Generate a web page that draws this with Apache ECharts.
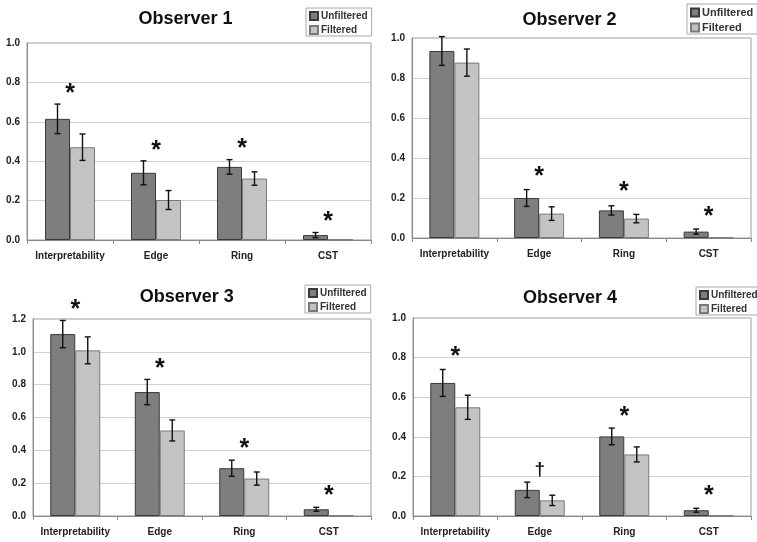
<!DOCTYPE html>
<html>
<head>
<meta charset="utf-8">
<script src="https://cdn.jsdelivr.net/npm/echarts@6/dist/echarts.min.js"></script>
<style>html,body{margin:0;padding:0;background:#fff;}#c{width:757px;height:542px;}</style>
</head>
<body>
<div id="c"></div>
<script>
const categories = ['Interpretability', 'Edge', 'Ring', 'CST'];
const titles = ['Observer 1', 'Observer 2', 'Observer 3', 'Observer 4'];
const seriesNames = ['Unfiltered', 'Filtered'];
const yMax = [1.0, 1.0, 1.2, 1.0];

const unfiltered1 = [0.615, 0.341, 0.371, 0.025];
const unfilteredErr1 = [0.075, 0.061, 0.037, 0.013];
const filtered1 = [0.471, 0.203, 0.312, 0.002];
const filteredErr1 = [0.067, 0.048, 0.034, 0];
const marks1 = ['*', '*', '*', '*'];
const markY1 = [0.77, 0.48, 0.49, 0.12];

const unfiltered2 = [0.935, 0.200, 0.138, 0.032];
const unfilteredErr2 = [0.072, 0.042, 0.023, 0.013];
const filtered2 = [0.877, 0.122, 0.097, 0.002];
const filteredErr2 = [0.068, 0.034, 0.021, 0];
const marks2 = ['', '*', '*', '*'];
const markY2 = [null, 0.33, 0.255, 0.13];

const unfiltered3 = [1.108, 0.755, 0.291, 0.041];
const unfilteredErr3 = [0.083, 0.077, 0.049, 0.012];
const filtered3 = [1.009, 0.521, 0.228, 0.002];
const filteredErr3 = [0.082, 0.064, 0.040, 0];
const marks3 = ['*', '*', '*', '*'];
const markY3 = [1.289, 0.929, 0.441, 0.157];

const unfiltered4 = [0.672, 0.132, 0.402, 0.029];
const unfilteredErr4 = [0.068, 0.039, 0.042, 0.010];
const filtered4 = [0.549, 0.079, 0.311, 0.002];
const filteredErr4 = [0.061, 0.026, 0.038, 0];
const marks4 = ['*', '†', '*', '*'];
const markY4 = [0.828, 0.236, 0.527, 0.127];

const panels = [
  {unf: unfiltered1, unfErr: unfilteredErr1, fil: filtered1, filErr: filteredErr1, marks: marks1, markY: markY1},
  {unf: unfiltered2, unfErr: unfilteredErr2, fil: filtered2, filErr: filteredErr2, marks: marks2, markY: markY2},
  {unf: unfiltered3, unfErr: unfilteredErr3, fil: filtered3, filErr: filteredErr3, marks: marks3, markY: markY3},
  {unf: unfiltered4, unfErr: unfilteredErr4, fil: filtered4, filErr: filteredErr4, marks: marks4, markY: markY4}
];

// layout (style)
const FONT = "'Liberation Sans', Arial, Helvetica, sans-serif";
const grids = [
  {left: 27, top: 43, width: 344, height: 197},
  {left: 412, top: 38, width: 339, height: 200},
  {left: 33, top: 319, width: 338, height: 197},
  {left: 413, top: 318, width: 338, height: 198}
];
const titlePos = [[185.5, 19.5], [569.5, 19.7], [186.7, 297.3], [570, 298.3]];
const legendPos = [
  {left: 306, top: 8, fs: 10},
  {left: 687, top: 4, fs: 11},
  {left: 305, top: 285, fs: 10},
  {left: 696, top: 287, fs: 10}
];
const BAR_W = 25;
const colUnf = '#7e7e7e', colUnfBorder = '#3a3a3a';
const colFil = '#c3c3c3', colFilBorder = '#7a7a7a';

const option = {
  animation: false,
  backgroundColor: '#fff',
  grid: [], xAxis: [], yAxis: [], series: [], legend: [], graphic: []
};

panels.forEach((p, i) => {
  option.grid.push(Object.assign({show: true, borderColor: '#9a9a9a', borderWidth: 1, backgroundColor: 'transparent', containLabel: false}, grids[i]));
  option.xAxis.push({
    type: 'category', gridIndex: i, data: categories,
    axisLine: {lineStyle: {color: '#8a8a8a', width: 1}},
    axisTick: {show: true, length: 4, lineStyle: {color: '#8a8a8a'}},
    axisLabel: {interval: 0, fontFamily: FONT, fontWeight: 'bold', fontSize: 10, color: '#222', margin: 11},
    splitLine: {show: false}
  });
  option.yAxis.push({
    type: 'value', gridIndex: i, min: 0, max: yMax[i], interval: 0.2,
    axisLine: {show: true, lineStyle: {color: '#8a8a8a', width: 1}},
    axisTick: {show: false},
    axisLabel: {fontFamily: FONT, fontWeight: 'bold', fontSize: 10, color: '#222', margin: 7,
      formatter: v => v.toFixed(1)},
    splitLine: {show: true, lineStyle: {color: '#cfcfcf', width: 1}}
  });
  option.series.push({
    name: seriesNames[0], type: 'bar', xAxisIndex: i, yAxisIndex: i, data: p.unf,
    barWidth: BAR_W, barGap: '0%',
    itemStyle: {color: colUnf, borderColor: colUnfBorder, borderWidth: 1}
  });
  option.series.push({
    name: seriesNames[1], type: 'bar', xAxisIndex: i, yAxisIndex: i, data: p.fil,
    barWidth: BAR_W, barGap: '0%',
    itemStyle: {color: colFil, borderColor: colFilBorder, borderWidth: 1}
  });
  [[p.unf, p.unfErr, -BAR_W / 2], [p.fil, p.filErr, BAR_W / 2]].forEach(([vals, errs, off]) => {
    option.series.push({
      type: 'custom', xAxisIndex: i, yAxisIndex: i, z: 5, silent: true,
      data: vals.map((v, k) => [k, v, errs[k]]),
      renderItem: function (params, api) {
        const k = api.value(0), v = api.value(1), e = api.value(2);
        if (!e) return null;
        const top = api.coord([k, v + e]);
        const bot = api.coord([k, v - e]);
        const x = top[0] + off;
        const cw = 3;
        const st = {stroke: '#111', lineWidth: 1.4};
        return {type: 'group', children: [
          {type: 'line', shape: {x1: x, y1: top[1], x2: x, y2: bot[1]}, style: st},
          {type: 'line', shape: {x1: x - cw, y1: top[1], x2: x + cw, y2: top[1]}, style: st},
          {type: 'line', shape: {x1: x - cw, y1: bot[1], x2: x + cw, y2: bot[1]}, style: st}
        ]};
      }
    });
  });
  option.series.push({
    type: 'custom', xAxisIndex: i, yAxisIndex: i, z: 6, silent: true, clip: false,
    data: p.markY.map((y, k) => [k, y == null ? 0 : y]),
    renderItem: function (params, api) {
      const k = api.value(0), y = api.value(1);
      const txt = p.marks[params.dataIndex];
      if (!txt) return null;
      const c = api.coord([k, y]);
      const isStar = txt === '*';
      const fs = isStar ? 25 : 19;
      const dy = isStar ? 0.22 * fs : 0;
      return {type: 'text', x: c[0], y: c[1] + dy, style: {
        text: txt, fill: '#111', font: 'bold ' + fs + 'px ' + FONT,
        textAlign: 'center', textVerticalAlign: 'middle'}};
    }
  });
  const lp = legendPos[i];
  option.legend.push({
    data: seriesNames, orient: 'vertical', left: lp.left, top: lp.top,
    itemWidth: 8, itemHeight: 8, itemGap: 4, icon: 'rect',
    padding: [3, 4, 1, 3], borderColor: '#a8a8a8', borderWidth: 1, backgroundColor: '#fff',
    textStyle: {fontFamily: FONT, fontWeight: 'bold', fontSize: lp.fs, color: '#333', padding: [0, 0, 0, -2]},
    selectedMode: false
  });
  option.graphic.push({
    type: 'text', x: titlePos[i][0], y: titlePos[i][1],
    style: {text: titles[i], fill: '#111', font: 'bold 18px ' + FONT, textAlign: 'center', textVerticalAlign: 'middle'}
  });
});

const chart = echarts.init(document.getElementById('c'), null, {renderer: 'canvas'});
chart.setOption(option);
</script>
</body>
</html>
